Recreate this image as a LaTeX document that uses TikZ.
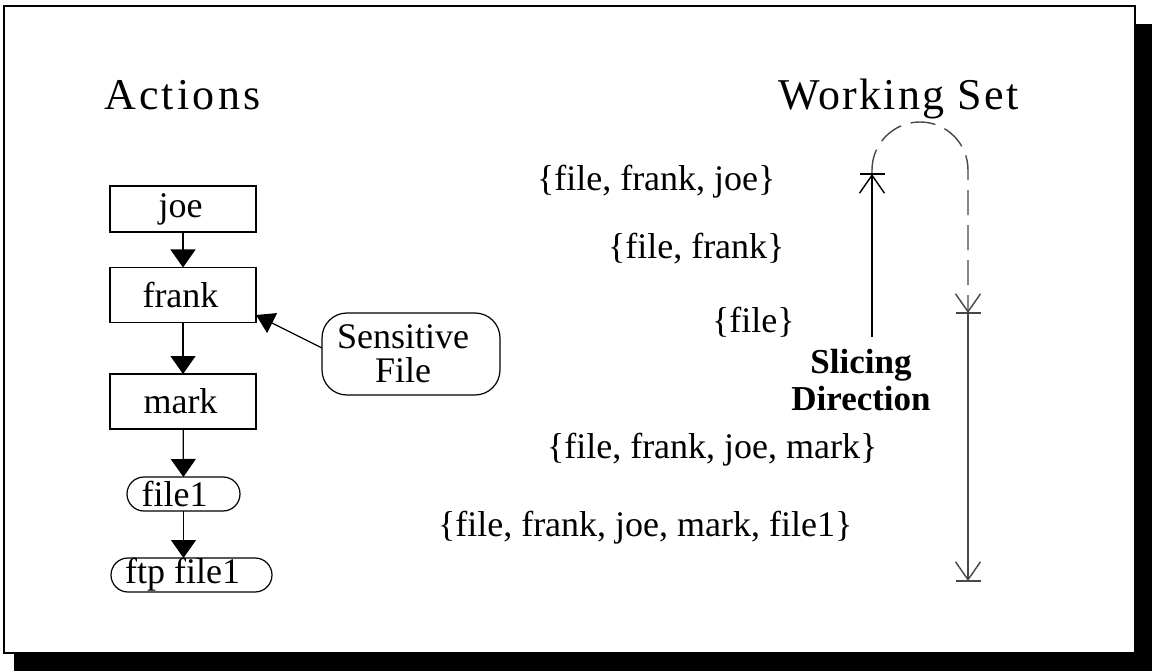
\documentclass[tikz,border=0pt]{standalone}
\usepackage{fontspec}
\setmainfont{Liberation Serif}
\usetikzlibrary{arrows.meta,shapes.misc}

\begin{document}
\begin{tikzpicture}[x=1pt,y=-1pt,
  every node/.style={inner sep=0pt, outer sep=0pt},
  body/.style={font=\fontsize{36}{42}\selectfont},
  heading/.style={font=\fontsize{44}{50}\selectfont},
  actbox/.style={draw, line width=1.2pt, minimum width=146pt, body},
  pill/.style={draw, rounded rectangle, line width=1.2pt, minimum height=34pt, body},
  flow/.style={line width=1.2pt, -{Triangle[length=18pt,width=25pt]}},
  slice/.style={line width=1.4pt, -{Straight Barb[length=18pt,width=25pt]}},
  tee/.style={line width=1.4pt},
  pathgray/.style={draw=black!72},
]
\useasboundingbox (0,0) rectangle (1152,671);

% frame with drop shadow
\fill (14,24) rectangle (1152,671);
\draw[line width=2pt, fill=white] (4,6) rectangle (1135,653);

% headings
\node[heading, anchor=base west] (acttitle) at (104,110) {\addfontfeature{LetterSpace=7.5}Actions};
\node[heading, anchor=base west] (wstitle) at (778,110) {\addfontfeature{LetterSpace=5.2}Working Set};

% action chain (labels sit a little left of centre)
\node[actbox, minimum height=46pt] (joe) at (183,209) {\hspace*{-5pt}joe};
\node[actbox, minimum height=55pt] (frank) at (183,295) {\hspace*{-5pt}frank};
\node[actbox, minimum height=55pt] (mark) at (183,401.5) {\hspace*{-5pt}mark};
\node[pill, minimum width=113pt] (file1) at (183.5,494) {\hspace*{-18pt}file1};
\node[pill, minimum width=161pt] (ftp) at (191.5,575) {\hspace*{-18pt}ftp file1};
\node[draw, line width=1.2pt, rounded corners=25pt, minimum width=178pt,
      minimum height=82pt, align=center, font=\fontsize{36}{34}\selectfont]
      (sens) at (411,354)
      {\hspace*{-16pt}Sensitive\\\hspace*{-16pt}File};

\draw[flow] (joe) -- (frank);
\draw[flow] (frank) -- (mark);
\draw[flow] (mark) -- (file1);
\draw[flow] (file1.south) -- (file1.south |- ftp.north);
\draw[line width=1.2pt, -{Triangle[length=18pt,width=22pt]}]
  ([yshift=6pt]sens.west) -- ([yshift=-20pt]frank.east);

% working sets
\node[body, anchor=base west] (ws1) at (537,191) {\{file, frank, joe\}};
\node[body, anchor=base west] (ws2) at (608,259) {\{file, frank\}};
\node[body, anchor=base west] (ws3) at (712,333) {\{file\}};
\node[body, anchor=base west] (ws4) at (547,458) {\{file, frank, joe, mark\}};
\node[body, anchor=base west] (ws5) at (438,536) {\{file, frank, joe, mark, file1\}};

\node[align=center, font=\fontsize{35}{37}\selectfont\bfseries] (dir) at (861,380)
  {Slicing\\Direction};

% slicing direction arrows
\coordinate (upbase) at (872,337);
\coordinate (uptip) at (872,174);
\coordinate (midtip) at (968,313);
\coordinate (lowtip) at (968,581);

\draw[slice] (upbase) -- (uptip);
\draw[slice, pathgray, dash pattern=on 25pt off 10pt]
  (uptip) -- ++(0,-4) arc[start angle=180, end angle=360, radius=48] -- (midtip);
\draw[slice, pathgray] (midtip) -- (lowtip);

\draw[tee] ([xshift=-12.5pt]uptip) -- ([xshift=12.5pt]uptip);
\draw[tee, pathgray] ([xshift=-12.5pt]midtip) -- ([xshift=12.5pt]midtip);
\draw[tee, pathgray] ([xshift=-12.5pt]lowtip) -- ([xshift=12.5pt]lowtip);
\end{tikzpicture}
\end{document}
